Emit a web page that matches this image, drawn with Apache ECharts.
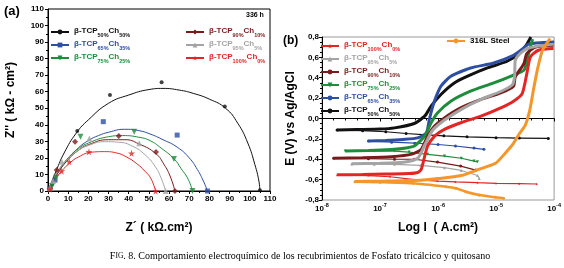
<!DOCTYPE html>
<html>
<head>
<meta charset="utf-8">
<script src="https://cdn.jsdelivr.net/npm/echarts@6/dist/echarts.min.js"></script>
<style>
html, body { margin: 0; padding: 0; background: #fff; }
#chart { width: 564px; height: 268px; }
</style>
</head>
<body>
<div id="chart"></div>
<script>
// sample composition labels (index 0..5 = 50/50, 65/35, 75/25, 90/10, 95/5, 100/0)
var tcpLabels = ['50%', '65%', '75%', '90%', '95%', '100%'];
var chLabels = ['50%', '35%', '25%', '10%', '5%', '0%'];

// (a) Nyquist, measured points [Z', Z'']
var pts50 = [[1, 1], [2, 4], [14.5, 36.3], [30.7, 58], [56.3, 65.7], [87.6, 51], [105, 0.4]];
var pts65 = [[1, 1.5], [3.5, 6.6], [27.4, 41.9], [64, 33.8], [79, 0]];
var pts75 = [[2, 3], [4, 8], [16.1, 32.8], [42.7, 35.8], [62.4, 19.3], [71.6, 0]];
var pts90 = [[1, 1.5], [4.3, 12.7], [13.4, 29.8], [35.1, 33.2], [53.5, 23.5], [62.9, 0]];
var pts95 = [[1, 2], [2.5, 6], [6.8, 17.7], [20.5, 31.8], [45.2, 28.8], [58.3, 0]];
var pts100 = [[1, 1], [6.8, 12], [10.5, 17.7], [20.3, 23.7], [41.4, 22.8], [53.3, 0]];

// (a) fitted curves
var fit50 = [[0, 0], [4, 12], [8, 23], [14, 35], [20, 43], [30, 53], [40, 58], [50, 61.3], [57, 62], [65, 61], [72, 59], [80, 55.5], [88, 50], [94, 41], [99, 29], [102.5, 16], [104.5, 6], [105, 0]];
var fit65 = [[0, 0], [3, 7], [6, 13], [10, 19.5], [15, 26], [20, 30.5], [25, 33.5], [30, 35.5], [38, 37.3], [45, 36.5], [50.5, 34.5], [57, 31], [64, 26.5], [70, 20], [74, 13], [77, 6], [79, 0]];
var fit75 = [[0, 0], [5, 12], [10, 20], [15, 25.5], [20, 29], [30, 32.8], [37, 33.5], [45, 32.5], [50.5, 30.5], [56, 26], [62.4, 19.5], [66, 13.5], [69.5, 7], [71.6, 0]];
var fit90 = [[0, 0], [5, 11], [10, 19], [15, 24.5], [20, 28], [30, 31], [38, 31], [45, 28.5], [53.5, 22.5], [57.5, 16], [60.5, 9], [62.9, 0]];
var fit95 = [[0, 0], [5, 12], [10, 19.5], [15, 24.5], [20, 27.5], [28, 29.8], [35, 29.5], [42, 27], [48, 22], [53, 15], [56, 8], [58.3, 0]];
var fit100 = [[0, 0], [3, 6], [6, 11], [10, 16], [15, 20.5], [22, 23.5], [28, 23.8], [34, 23], [39, 20.5], [44, 16.5], [48, 12], [51, 7.5], [53.3, 0]];

// (b) polarization, [log I, E]; cathodic branch (right end -> Ecorr) and anodic branch
var cath50 = [[-4.1, -0.196], [-4.6, -0.192], [-5.0, -0.188], [-5.5, -0.18], [-5.9, -0.17], [-6.2, -0.16], [-6.55, -0.147], [-6.9, -0.13], [-7.3, -0.12], [-7.74, -0.114]];
var anod50 = [[-7.74, -0.112], [-7.4, -0.108], [-7.0, -0.104], [-6.75, -0.092], [-6.41, -0.049], [-6.23, 0.023], [-6.12, 0.121], [-5.95, 0.236], [-5.72, 0.349], [-5.49, 0.415], [-5.15, 0.496], [-4.81, 0.562], [-4.6, 0.64], [-4.48, 0.72], [-4.4, 0.8]];
var cath65 = [[-5.21, -0.303], [-5.38, -0.29], [-5.7, -0.27], [-6.0, -0.255], [-6.4, -0.242], [-6.8, -0.232], [-7.2, -0.222]];
var anod65 = [[-7.2, -0.22], [-6.9, -0.215], [-6.6, -0.205], [-6.35, -0.19], [-6.2, -0.14], [-6.15, -0.009], [-6.09, 0.121], [-6.03, 0.219], [-5.95, 0.317], [-5.78, 0.415], [-5.44, 0.496], [-5.04, 0.545], [-4.7, 0.62], [-4.55, 0.68], [-4.44, 0.73], [-4.2, 0.745], [-4.0, 0.75]];
var cath75 = [[-5.32, -0.425], [-5.38, -0.418], [-5.6, -0.39], [-5.89, -0.369], [-6.18, -0.352], [-6.5, -0.33], [-6.75, -0.32], [-7.1, -0.32], [-7.6, -0.32]];
var anod75 = [[-7.6, -0.318], [-7.2, -0.315], [-6.8, -0.305], [-6.55, -0.29], [-6.41, -0.271], [-6.23, -0.173], [-6.12, -0.043], [-6.01, 0.055], [-5.78, 0.17], [-5.44, 0.268], [-5.04, 0.349], [-4.72, 0.422], [-4.52, 0.474], [-4.47, 0.56], [-4.44, 0.637], [-4.4, 0.72], [-4.37, 0.78]];
var cath90 = [[-5.35, -0.506], [-5.61, -0.467], [-6.01, -0.428], [-6.41, -0.4], [-6.75, -0.4], [-7.2, -0.395], [-7.8, -0.391]];
var anod90 = [[-7.8, -0.39], [-7.3, -0.385], [-6.8, -0.375], [-6.45, -0.35], [-6.29, -0.303], [-6.18, -0.173], [-6.06, -0.075], [-5.89, 0.006], [-5.61, 0.104], [-5.26, 0.187], [-4.92, 0.251], [-4.7, 0.317], [-4.67, 0.408], [-4.52, 0.539], [-4.47, 0.637], [-4.32, 0.702], [-4.01, 0.719]];
var cath95 = [[-5.29, -0.588], [-5.32, -0.56], [-5.6, -0.51], [-5.89, -0.483], [-6.3, -0.46], [-6.75, -0.45], [-7.1, -0.448], [-7.49, -0.447]];
var anod95 = [[-7.49, -0.445], [-7.0, -0.44], [-6.6, -0.43], [-6.35, -0.39], [-6.22, -0.25], [-6.1, -0.12], [-5.9, -0.02], [-5.6, 0.09], [-5.25, 0.19], [-4.92, 0.265], [-4.72, 0.33], [-4.68, 0.42], [-4.67, 0.57], [-4.6, 0.63], [-4.45, 0.69], [-4.01, 0.73]];
var cath100 = [[-4.3, -0.643], [-4.6, -0.64], [-5.0, -0.636], [-5.32, -0.63], [-5.7, -0.622], [-6.01, -0.614], [-6.4, -0.6], [-6.83, -0.572], [-7.2, -0.56], [-7.74, -0.555]];
var anod100 = [[-7.74, -0.553], [-7.3, -0.55], [-6.9, -0.545], [-6.5, -0.54], [-6.35, -0.53], [-6.29, -0.5], [-6.23, -0.369], [-6.18, -0.271], [-6.06, -0.173], [-5.89, -0.107], [-5.61, -0.042], [-5.26, 0.023], [-4.92, 0.104], [-4.7, 0.17], [-4.55, 0.245], [-4.47, 0.441], [-4.41, 0.604], [-4.27, 0.67], [-4.01, 0.686]];
var cathSteel = [[-4.87, -0.783], [-5.01, -0.774], [-5.29, -0.751], [-5.52, -0.719], [-5.69, -0.685], [-5.86, -0.67], [-6.43, -0.636], [-7.0, -0.625], [-7.43, -0.62]];
var anodSteel = [[-7.43, -0.618], [-7.0, -0.615], [-6.6, -0.61], [-6.3, -0.605], [-6.0, -0.59], [-5.6, -0.56], [-5.3, -0.5], [-5.01, -0.44], [-4.81, -0.32], [-4.72, -0.26], [-4.6, -0.15], [-4.5, -0.07], [-4.42, 0.08], [-4.35, 0.3], [-4.28, 0.5], [-4.2, 0.67], [-4.07, 0.785]];

var nyqPts = [pts50, pts65, pts75, pts90, pts95, pts100];
var nyqFit = [fit50, fit65, fit75, fit90, fit95, fit100];
var polCath = [cath50, cath65, cath75, cath90, cath95, cath100];
var polAnod = [anod50, anod65, anod75, anod90, anod95, anod100];

var colors = ['#111111', '#2d4ea3', '#1d8d3b', '#7a1b1b', '#a4a4a4', '#e52424'];
var steelColor = '#f5962b';
var STAR = 'path://M50,0 L61,35 L98,35 L68,57 L79,91 L50,70 L21,91 L32,57 L2,35 L39,35 Z';
var DOWN = 'path://M0,0 L10,0 L5,9 Z';
var symbolsA = ['circle', 'rect', DOWN, 'diamond', 'triangle', STAR];
var sizesA = [4, 5, 6, 6, 6, 7];
var symbolsB = ['circle', 'circle', DOWN, 'circle', 'triangle', STAR];

var FONT = 'Liberation Sans, Arial, sans-serif';
var subRich = {
    m: { fontSize: 8, fontWeight: 'bold', fontFamily: FONT, lineHeight: 10, verticalAlign: 'top' },
    s: { fontSize: 5.5, fontWeight: 'bold', fontFamily: FONT, lineHeight: 6, padding: [5, 0, 0, 0], verticalAlign: 'top' }
};

function tcpText(i) {
    return '{m|β-TCP}{s|' + tcpLabels[i] + '}{m|Ch}{s|' + chLabels[i] + '}';
}

var series = [];
// panel (a): fitted lines, then points
for (var i = 0; i < 6; i++) {
    series.push({
        name: 'a' + i, type: 'line', xAxisIndex: 0, yAxisIndex: 0,
        data: nyqFit[i], smooth: true, showSymbol: false,
        symbol: symbolsA[i], symbolSize: sizesA[i],
        lineStyle: { width: 1, color: colors[i] }, itemStyle: { color: colors[i] }, z: 2
    });
}
for (var i = 0; i < 6; i++) {
    series.push({
        name: 'pa' + i, type: 'scatter', xAxisIndex: 0, yAxisIndex: 0,
        data: nyqPts[i], symbol: symbolsA[i], symbolSize: sizesA[i],
        itemStyle: { color: colors[i] }, z: 3
    });
}
// panel (b)
for (var i = 0; i < 6; i++) {
    series.push({
        name: 'b' + i, type: 'line', xAxisIndex: 1, yAxisIndex: 1,
        data: polCath[i], showSymbol: true, symbol: symbolsB[i], symbolSize: 3,
        lineStyle: { width: 1.2, color: colors[i] }, itemStyle: { color: colors[i] }, z: 2
    });
    series.push({
        name: 'ban' + i, type: 'line', xAxisIndex: 1, yAxisIndex: 1,
        data: polAnod[i], showSymbol: false, smooth: 0.2,
        lineStyle: { width: 3, color: colors[i] }, itemStyle: { color: colors[i] }, z: 3
    });
}
series.push({
    name: 'steel', type: 'line', xAxisIndex: 1, yAxisIndex: 1,
    data: cathSteel, showSymbol: true, symbol: 'circle', symbolSize: 3, smooth: 0.2,
    lineStyle: { width: 2.5, color: steelColor }, itemStyle: { color: steelColor }, z: 4
});
series.push({
    name: 'steelan', type: 'line', xAxisIndex: 1, yAxisIndex: 1,
    data: anodSteel, showSymbol: false, smooth: 0.2,
    lineStyle: { width: 3, color: steelColor }, itemStyle: { color: steelColor }, z: 4
});

function legendItems(prefix, idx) {
    return idx.map(function (i) {
        return { name: prefix + i, textStyle: { color: colors[i] } };
    });
}
var legendBase = {
    orient: 'vertical', itemWidth: 18, itemHeight: 6, itemGap: 2, padding: 0,
    textStyle: { fontFamily: FONT, fontSize: 8, fontWeight: 'bold', rich: subRich },
    formatter: function (name) { return tcpText(+name.replace(/\D/g, '')); }
};

var axisLabelStyle = { fontFamily: FONT, fontSize: 8, fontWeight: 'bold', color: '#000' };
var nameStyle = { fontFamily: FONT, fontSize: 12, fontWeight: 'bold', color: '#000' };
var blackLine = { show: true, lineStyle: { color: '#000', width: 1 } };

var option = {
    animation: false,
    backgroundColor: '#fff',
    grid: [
        { left: 48, right: 294, top: 9, bottom: 77, show: true, borderColor: '#000', borderWidth: 1 },
        { left: 322, right: 9, top: 37, bottom: 68, show: true, borderColor: '#999', borderWidth: 1 }
    ],
    xAxis: [
        {
            gridIndex: 0, type: 'value', min: 0, max: 110, interval: 10,
            axisLine: blackLine, axisTick: { length: 3, lineStyle: { color: '#000' } },
            minorTick: { show: true, splitNumber: 2, length: 2, lineStyle: { color: '#000' } },
            splitLine: { show: false },
            axisLabel: Object.assign({ margin: 4 }, axisLabelStyle),
            name: 'Z´ ( kΩ.cm²)', nameLocation: 'middle', nameGap: 31, nameTextStyle: nameStyle
        },
        {
            gridIndex: 1, type: 'value', min: -8, max: -4, interval: 1,
            axisLine: blackLine, axisTick: { length: 3, lineStyle: { color: '#000' } },
            minorTick: { show: true, splitNumber: 5, length: 2, lineStyle: { color: '#000' } },
            splitLine: { show: false },
            axisLabel: {
                margin: 3,
                formatter: function (v) { return '{m|10}{p|' + v + '}'; },
                rich: {
                    m: { fontSize: 8, fontWeight: 'bold', fontFamily: FONT, lineHeight: 10, verticalAlign: 'bottom', color: '#000' },
                    p: { fontSize: 5.5, fontWeight: 'bold', fontFamily: FONT, lineHeight: 6, padding: [0, 0, 5, 0], verticalAlign: 'bottom', color: '#000' }
                }
            },
            name: 'Log I  ( A.cm²)', nameLocation: 'middle', nameGap: 22, nameTextStyle: nameStyle
        }
    ],
    yAxis: [
        {
            gridIndex: 0, type: 'value', min: 0, max: 110, interval: 10,
            axisLine: blackLine, axisTick: { length: 3, lineStyle: { color: '#000' } },
            minorTick: { show: true, splitNumber: 2, length: 2, lineStyle: { color: '#000' } },
            splitLine: { show: false },
            axisLabel: Object.assign({ margin: 4 }, axisLabelStyle),
            name: 'Z\'\' ( kΩ - cm²)', nameLocation: 'middle', nameGap: 31, nameTextStyle: nameStyle
        },
        {
            gridIndex: 1, type: 'value', min: -0.8, max: 0.8, interval: 0.2,
            axisLine: blackLine, axisTick: { length: 3, lineStyle: { color: '#000' } },
            minorTick: { show: true, splitNumber: 4, length: 2, lineStyle: { color: '#000' } },
            splitLine: { show: false },
            axisLabel: Object.assign({
                margin: 3,
                formatter: function (v) { return v.toFixed(1).replace('.', ','); }
            }, axisLabelStyle),
            name: 'E (V) vs Ag/AgCl', nameLocation: 'middle', nameGap: 25, nameTextStyle: nameStyle
        }
    ],
    legend: [
        Object.assign({ left: 50, top: 27, data: legendItems('a', [0, 1, 2]) }, legendBase),
        Object.assign({ left: 185, top: 27, data: legendItems('a', [3, 4, 5]) }, legendBase),
        Object.assign({ left: 320, top: 41, data: legendItems('b', [5, 4, 3, 2, 1, 0]) }, legendBase),
        {
            left: 446, top: 37, itemWidth: 18, itemHeight: 6, padding: 0,
            data: [{ name: 'steel', textStyle: { color: '#000' } }],
            formatter: function () { return '316L Steel'; },
            textStyle: { fontFamily: FONT, fontSize: 8, fontWeight: 'bold' }
        }
    ],
    graphic: [
        { type: 'text', left: 4, top: 5, style: { text: '(a)', font: 'bold 13px ' + FONT, fill: '#000' } },
        { type: 'text', left: 246, top: 12, style: { text: '336 h', font: 'bold 7px ' + FONT, fill: '#000' } },
        { type: 'text', left: 283, top: 35, style: { text: '(b)', font: 'bold 12px ' + FONT, fill: '#000' } },
        {
            type: 'text', x: 300, y: 256,
            style: {
                text: '{f|F}{c|IG}{n|. 8. Comportamiento electroquímico de los recubrimientos de Fosfato tricálcico y quitosano}',
                align: 'center', verticalAlign: 'middle', fill: '#000',
                rich: {
                    f: { fontFamily: 'Liberation Serif, Times New Roman, serif', fontSize: 10 },
                    c: { fontFamily: 'Liberation Serif, Times New Roman, serif', fontSize: 7.5 },
                    n: { fontFamily: 'Liberation Serif, Times New Roman, serif', fontSize: 10 }
                }
            }
        }
    ],
    series: series
};

var chart = echarts.init(document.getElementById('chart'));
chart.setOption(option);
</script>
</body>
</html>
